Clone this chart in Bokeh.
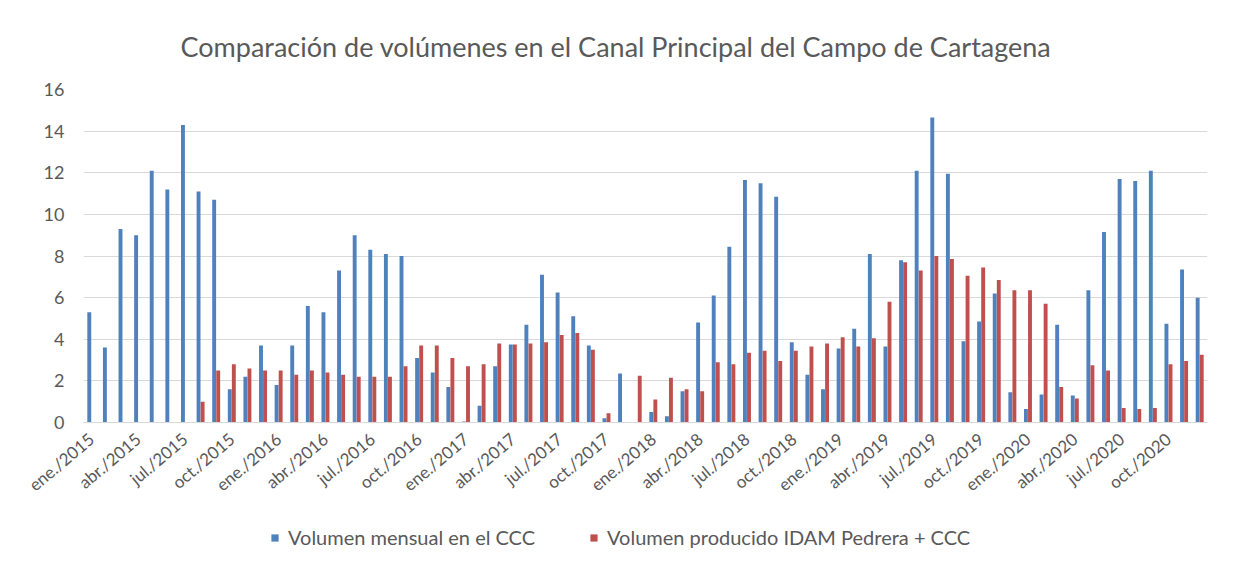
from bokeh.plotting import figure
from bokeh.layouts import column
from bokeh.models import ColumnDataSource, FixedTicker, Legend, LegendItem, Range1d
from bokeh.embed import file_html
from bokeh.resources import INLINE

month_names = ["ene.", "feb.", "mar.", "abr.", "may.", "jun.",
               "jul.", "ago.", "sep.", "oct.", "nov.", "dic."]
years = [2015, 2016, 2017, 2018, 2019, 2020]
labels = [f"{m}/{y}" for y in years for m in month_names]

volumen_ccc = [
    5.3, 3.6, 9.3, 9.0, 12.1, 11.2, 14.3, 11.1, 10.7, 1.6, 2.2, 3.7,      # 2015
    1.8, 3.7, 5.6, 5.3, 7.3, 9.0, 8.3, 8.1, 8.0, 3.1, 2.4, 1.7,           # 2016
    0.05, 0.8, 2.7, 3.75, 4.7, 7.1, 6.25, 5.1, 3.7, 0.2, 2.35, 0.0,       # 2017
    0.5, 0.3, 1.5, 4.8, 6.1, 8.45, 11.65, 11.5, 10.85, 3.85, 2.3, 1.6,    # 2018
    3.55, 4.5, 8.1, 3.65, 7.8, 12.1, 14.65, 11.95, 3.9, 4.85, 6.2, 1.45,  # 2019
    0.65, 1.35, 4.7, 1.3, 6.35, 9.15, 11.7, 11.6, 12.1, 4.75, 7.35, 6.0,  # 2020
]
volumen_idam = [
    0.0, 0.0, 0.0, 0.0, 0.0, 0.0, 0.0, 1.0, 2.5, 2.8, 2.6, 2.5,           # 2015
    2.5, 2.3, 2.5, 2.4, 2.3, 2.2, 2.2, 2.2, 2.7, 3.7, 3.7, 3.1,           # 2016
    2.7, 2.8, 3.8, 3.75, 3.8, 3.85, 4.2, 4.3, 3.5, 0.45, 0.0, 2.25,       # 2017
    1.1, 2.15, 1.6, 1.5, 2.9, 2.8, 3.35, 3.45, 2.95, 3.45, 3.65, 3.8,     # 2018
    4.1, 3.65, 4.05, 5.8, 7.7, 7.3, 8.0, 7.85, 7.05, 7.45, 6.85, 6.35,    # 2019
    6.35, 5.7, 1.7, 1.15, 2.75, 2.5, 0.7, 0.65, 0.7, 2.8, 2.95, 3.25,     # 2020
]

title = "Comparación de volúmenes en el Canal Principal del Campo de Cartagena"
serie1 = "Volumen mensual en el CCC"
serie2 = "Volumen producido IDAM Pedrera + CCC"

BLUE = "#4F81BD"
RED = "#C0504D"
GREY = "#595959"
FONT = "Lato"

idx = list(range(len(labels)))
src = ColumnDataSource(dict(
    x1=[i - 0.13 for i in idx],
    x2=[i + 0.13 for i in idx],
    ccc=volumen_ccc,
    idam=volumen_idam,
))

p = figure(width=1222, height=506, output_backend="svg", toolbar_location=None,
           x_range=Range1d(-0.5, len(labels) - 0.5), y_range=Range1d(0, 16),
           min_border_left=83, min_border_right=15, min_border_top=85,
           min_border_bottom=83)

p.vbar(x="x1", top="ccc", width=0.25, source=src, fill_color=BLUE, line_color=None)
p.vbar(x="x2", top="idam", width=0.25, source=src, fill_color=RED, line_color=None)

p.title.text = title
p.title.align = "left"
p.title.offset = 97
p.title.text_font = FONT
p.title.text_font_size = "27px"
p.title.text_font_style = "normal"
p.title.text_color = GREY
p.title.text_line_height = 1.0
p.title.standoff = 54

p.outline_line_color = None
p.xgrid.grid_line_color = None
p.ygrid.grid_line_color = "#d9d9d9"
p.ygrid.ticker = FixedTicker(ticks=list(range(0, 17, 2)))

p.yaxis.ticker = FixedTicker(ticks=list(range(0, 17, 2)))
p.yaxis.axis_line_color = None
p.yaxis.major_tick_line_color = None
p.yaxis.minor_tick_line_color = None
p.yaxis.major_tick_out = 0
p.yaxis.minor_tick_out = 0
p.yaxis.major_label_text_font = FONT
p.yaxis.major_label_text_font_size = "18px"
p.yaxis.major_label_text_color = GREY
p.yaxis.major_label_standoff = 19

tick_idx = idx[::3]
p.xaxis.ticker = FixedTicker(ticks=tick_idx)
p.xaxis.major_label_overrides = {i: labels[i] for i in tick_idx}
p.xaxis.major_label_orientation = 0.70
p.xaxis.axis_line_color = "#d9d9d9"
p.xaxis.major_tick_line_color = None
p.xaxis.minor_tick_line_color = None
p.xaxis.major_tick_out = 0
p.xaxis.minor_tick_out = 0
p.xaxis.major_label_text_font = FONT
p.xaxis.major_label_text_font_size = "17px"
p.xaxis.major_label_text_color = GREY
p.xaxis.major_label_standoff = 14

# legend strip below the chart
lg = figure(width=1222, height=59, output_backend="svg", toolbar_location=None,
            x_range=Range1d(0, 1), y_range=Range1d(0, 1),
            x_axis_location=None, y_axis_location=None, min_border=0)
lg.outline_line_color = None
lg.grid.grid_line_color = None
lr1 = lg.quad(left=[-10], right=[-9], bottom=[0], top=[1], fill_color=BLUE, line_color=None)
lr2 = lg.quad(left=[-10], right=[-9], bottom=[0], top=[1], fill_color=RED, line_color=None)
legend = Legend(items=[LegendItem(label=serie1, renderers=[lr1]),
                       LegendItem(label=serie2, renderers=[lr2])],
                orientation="horizontal", location=(187, 16),
                label_text_font=FONT, label_text_font_size="20px",
                label_text_color=GREY, glyph_width=9, glyph_height=9,
                spacing=54, border_line_color=None, background_fill_alpha=0,
                label_standoff=9, padding=0, margin=0)
lg.add_layout(legend, "center")

layout = column(p, lg, spacing=0)

open("out.html", "w").write(file_html(layout, INLINE))
